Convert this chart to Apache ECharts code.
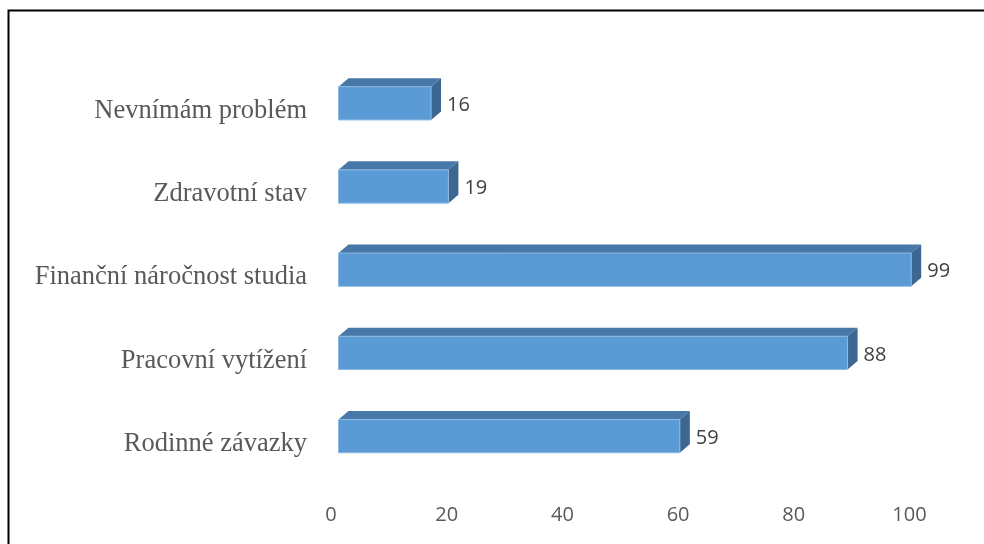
<!DOCTYPE html>
<html>
<head>
<meta charset="utf-8">
<script src="https://cdn.jsdelivr.net/npm/echarts@6/dist/echarts.min.js"></script>
<style>
  html, body { margin: 0; padding: 0; background: #ffffff; }
  #chart { width: 984px; height: 544px; }
</style>
</head>
<body>
<div id="chart"></div>
<script>
// Categories listed top to bottom, with their counts
const categories = [
  'Nevnímám problém',
  'Zdravotní stav',
  'Finanční náročnost studia',
  'Pracovní vytížení',
  'Rodinné závazky'
];
const counts = [16, 19, 99, 88, 59];
const xTicks = { min: 0, max: 100, interval: 20 };

// 3D box look: front face shifted up-right of the floor, plus depth
const SHIFT_X = 7.5, SHIFT_Y = -7.7;
const DEPTH_X = 10, DEPTH_Y = -8.5;
const BAR_RATIO = 0.4;

const colors = {
  front: '#5B9BD5',
  frontEdge: '#8DB9E2',
  top: '#4878A8',
  side: '#3C6790',
  label: '#404040',
  axis: '#595959'
};

const chart = echarts.init(document.getElementById('chart'), null, { renderer: 'canvas' });

function renderBox(params, api) {
  const cat = api.value(1);
  const val = api.value(0);
  const p0 = api.coord([0, cat]);
  const p1 = api.coord([val, cat]);
  const band = api.size([0, 1])[1];
  const h = band * BAR_RATIO;
  const x0 = p0[0] + SHIFT_X;
  const x1 = p1[0] + SHIFT_X;
  const cy = p0[1] + SHIFT_Y;
  const yt = cy - h / 2;
  const yb = cy + h / 2;
  return {
    type: 'group',
    children: [
      {
        type: 'polygon',
        shape: { points: [[x0, yt], [x1, yt], [x1 + DEPTH_X, yt + DEPTH_Y], [x0 + DEPTH_X, yt + DEPTH_Y]] },
        style: { fill: colors.top }
      },
      {
        type: 'polygon',
        shape: { points: [[x1, yt], [x1 + DEPTH_X, yt + DEPTH_Y], [x1 + DEPTH_X, yb + DEPTH_Y], [x1, yb]] },
        style: { fill: colors.side }
      },
      {
        type: 'rect',
        shape: { x: x0, y: yt, width: x1 - x0, height: h },
        style: { fill: colors.front, stroke: colors.frontEdge, lineWidth: 1 }
      },
      {
        type: 'text',
        style: {
          x: x1 + DEPTH_X + 6,
          y: cy + 2,
          text: String(val),
          fill: colors.label,
          font: '20px "Open Sans"',
          align: 'left',
          verticalAlign: 'middle'
        }
      }
    ]
  };
}

chart.setOption({
  animation: false,
  backgroundColor: '#ffffff',
  grid: { left: 331, right: 74.5, top: 69.4, bottom: 58.6, containLabel: false },
  xAxis: {
    type: 'value',
    min: xTicks.min,
    max: xTicks.max,
    interval: xTicks.interval,
    axisLine: { show: false },
    axisTick: { show: false },
    splitLine: { show: false },
    axisLabel: {
      margin: 20,
      color: colors.axis,
      fontFamily: 'Open Sans',
      fontSize: 20
    }
  },
  yAxis: {
    type: 'category',
    inverse: true,
    data: categories,
    axisLine: { show: false },
    axisTick: { show: false },
    splitLine: { show: false },
    axisLabel: {
      margin: 24,
      color: colors.axis,
      fontFamily: 'Liberation Serif',
      fontSize: 26.5
    }
  },
  graphic: [{
    type: 'rect',
    silent: true,
    shape: { x: 8.5, y: 10.5, width: 1000, height: 1000 },
    style: { fill: 'none', stroke: '#000000', lineWidth: 2 },
    z: 100
  }],
  series: [{
    type: 'custom',
    renderItem: renderBox,
    encode: { x: 0, y: 1 },
    data: counts.map((v, i) => [v, i])
  }]
});
</script>
</body>
</html>
